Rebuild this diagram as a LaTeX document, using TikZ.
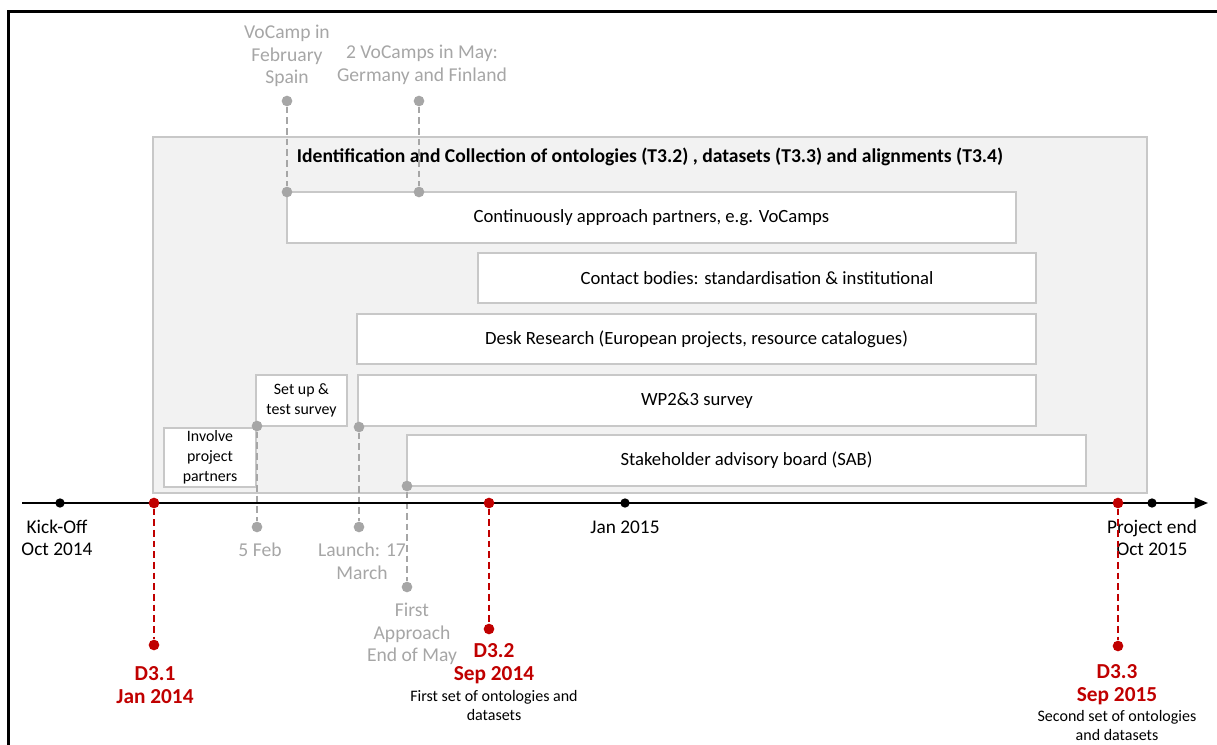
\documentclass[tikz,border=0pt]{standalone}
\usepackage{fontspec}
\setmainfont{Carlito}
\usetikzlibrary{arrows.meta,positioning}
\definecolor{darkred}{HTML}{C00000}
\definecolor{softgray}{HTML}{A6A6A6}
\definecolor{linegray}{HTML}{C8C8C8}
\definecolor{panelgray}{HTML}{F2F2F2}
\newcommand{\px}{0.75pt}

\begin{document}
\begin{tikzpicture}[x=0.75pt, y=-0.75pt,
    panel/.style={draw=linegray, fill=panelgray, line width=1.2pt, inner sep=0pt},
    task/.style={draw=linegray, fill=white, line width=1.2pt, inner sep=0pt, align=center, font=\fontsize{14}{16}\selectfont},
    smalltask/.style={task, font=\fontsize{11.9}{14.8}\selectfont},
    dot/.style={circle, fill, inner sep=0pt, minimum size=8pt},
    event/.style={dot, fill=softgray},
    milestone/.style={dot, fill=darkred},
    tick/.style={dot, fill=black, minimum size=7pt},
    gapline/.style={softgray, dash pattern=on 5pt off 3pt, line width=1pt},
    dueline/.style={darkred, dash pattern=on 5pt off 3pt, line width=1.4pt},
    note/.style={text=softgray, align=center, font=\fontsize{14.7}{17}\selectfont},
    datelbl/.style={align=center, font=\fontsize{14.5}{17}\selectfont},
    dlabel/.style={text=darkred, align=center, font=\bfseries\fontsize{16}{17.3}\selectfont},
    dnote/.style={align=center, inner sep=0pt, font=\fontsize{12}{14.5}\selectfont}]
  \useasboundingbox (0,0) rectangle (1217,745);

  % frame
  \draw[line width=2.2pt] (8.5,745) -- (8.5,11.5) -- (1217,11.5);

  % work package panel
  \node[panel, minimum width={994*\px}, minimum height={356*\px}] (wp) at (650,315) {};
  \node[font=\bfseries\fontsize{14.7}{16}\selectfont] (title) at (650,157)
    {Identification and Collection of ontologies (T3.2) , datasets (T3.3) and alignments (T3.4)};

  % tasks
  \node[task, minimum width={729*\px}, minimum height={51*\px}] (approach) at (651.5,217.5) {Continuously approach partners, e.g. VoCamps};
  \node[task, minimum width={558*\px}, minimum height={50*\px}] (contact) at (757,278) {Contact bodies: standardisation \& institutional};
  \node[task, minimum width={679*\px}, minimum height={50*\px}] (desk) at (696.5,339) {Desk Research (European projects, resource catalogues)};
  \node[task, minimum width={678*\px}, minimum height={51*\px}] (survey) at (697,400.5) {WP2\&3 survey};
  \node[task, minimum width={679*\px}, minimum height={51*\px}] (sab) at (746.5,460.5) {Stakeholder advisory board (SAB)};
  \node[smalltask, minimum width={91*\px}, minimum height={51*\px}] (setup) at (301.5,400.5) {Set up \&\\test survey};
  \node[smalltask, minimum width={92*\px}, minimum height={59*\px}] (involve) at (210,457.5) {Involve\\project\\partners};

  % events
  \node[event] (vocampA) at (287,101) {};
  \node[event] (vocampB) at (287,192) {};
  \node[event] (mayA) at (419,101) {};
  \node[event] (mayB) at (419,192) {};
  \node[event] (febA) at (257,426) {};
  \node[event] (febB) at (257,527) {};
  \node[event] (launchA) at (359,427) {};
  \node[event] (launchB) at (359,527) {};
  \node[event] (firstA) at (407,486) {};
  \node[event] (firstB) at (407,587) {};
  \draw[gapline] (vocampA) -- (vocampB);
  \draw[gapline] (mayA) -- (mayB);
  \draw[gapline] (febA) -- (febB);
  \draw[gapline] (launchA) -- (launchB);
  \draw[gapline] (firstA) -- (firstB);

  \node[note] (vocamplbl) at (287,56) {VoCamp in\\February\\Spain};
  \node[note] (maylbl) at (422,65) {2 VoCamps in May:\\Germany and Finland};
  \node[note] (feblbl) at (260,550) {5 Feb};
  \node[note] (launchlbl) at (362,561) {Launch: 17\\March};
  \node[note] (firstlbl) at (412,634) {First\\Approach\\End of May};

  % time line
  \coordinate (tstart) at (22,503);
  \coordinate (tend) at (1208,503);
  \draw[line width=1.5pt, -{Triangle[length=10pt,width=8pt]}] (tstart) -- (tend);
  \node[tick] (kick) at (60,503) {};
  \node[tick] (jan) at (625,503) {};
  \node[tick] (finish) at (1152,503) {};
  \node[datelbl] (kicklbl) at (57,538) {Kick-Off\\Oct 2014};
  \node[datelbl] (janlbl) at (625,527) {Jan 2015};
  \node[datelbl] (finishlbl) at (1152,538) {Project end\\Oct 2015};

  % deliverables
  \node[milestone] (dA) at (154,503) {};
  \node[milestone] (dAend) at (154,645) {};
  \node[milestone] (dB) at (489,503) {};
  \node[milestone] (dBend) at (489,629) {};
  \node[milestone] (dC) at (1118,503) {};
  \node[milestone] (dCend) at (1118,646) {};
  \draw[dueline] (dA) -- (dAend);
  \draw[dueline] (dB) -- (dBend);
  \draw[dueline, line width=0.9pt] (dC) -- (dCend);

  \node[dlabel] (dAlbl) at (155,685.5) {D3.1\\Jan 2014};
  \node[dlabel] (dBlbl) at (494,663.5) {D3.2\\Sep 2014};
  \node[dnote, below=1pt of dBlbl] (dBnote) {First set of ontologies and\\datasets};
  \node[dlabel] (dClbl) at (1117,685) {D3.3\\Sep 2015};
  \node[dnote, below=0pt of dClbl] (dCnote) {Second set of ontologies\\and datasets};
\end{tikzpicture}
\end{document}
